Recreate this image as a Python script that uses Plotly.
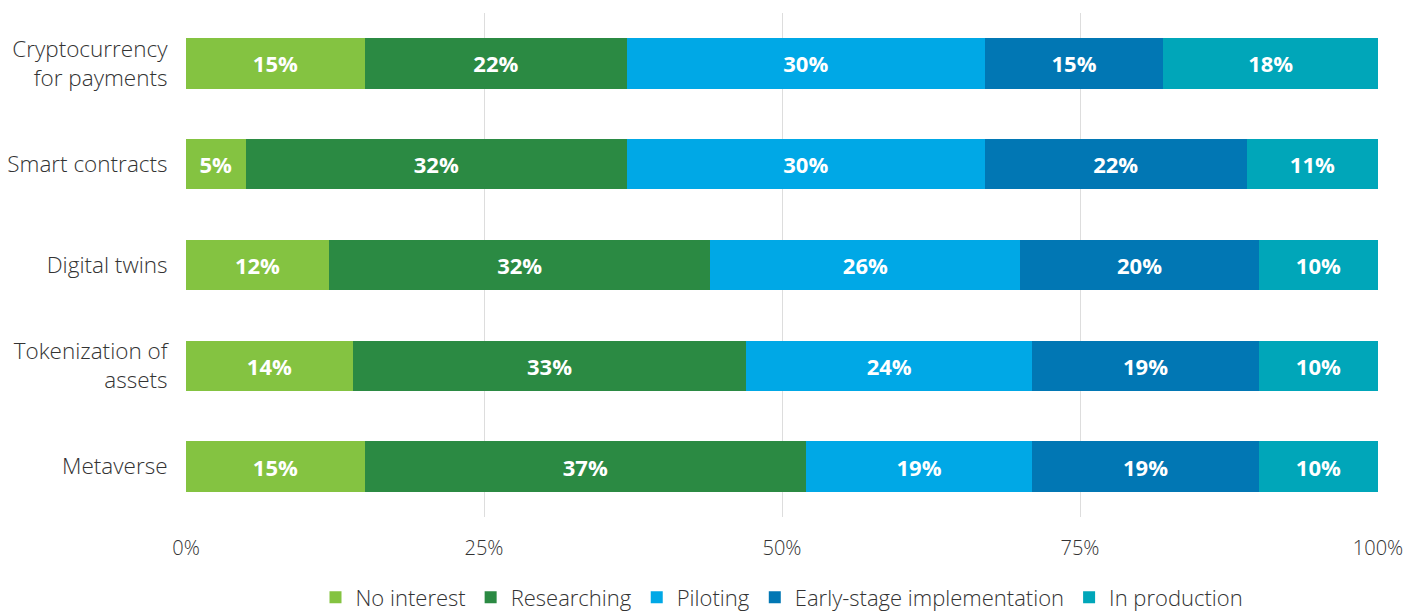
import plotly.graph_objects as go

categories = ["Cryptocurrency<br>for payments", "Smart contracts", "Digital twins",
              "Tokenization of<br>assets", "Metaverse"]
series_names = ["No interest", "Researching", "Piloting", "Early-stage implementation", "In production"]
no_interest = [15, 5, 12, 14, 15]
researching = [22, 32, 32, 33, 37]
piloting = [30, 30, 26, 24, 19]
early_stage = [15, 22, 20, 19, 19]
in_production = [18, 11, 10, 10, 10]
colors = ["#84C341", "#2B8A43", "#00A8E6", "#0177B4", "#00A6B9"]
tick_vals = [0, 25, 50, 75, 100]
tick_text = ["0%", "25%", "50%", "75%", "100%"]

series_values = [no_interest, researching, piloting, early_stage, in_production]

fig = go.Figure()
for name, vals, col in zip(series_names, series_values, colors):
    fig.add_trace(go.Bar(
        y=categories, x=vals, name=name, orientation="h",
        marker=dict(color=col, line=dict(width=0)),
        text=[f"{v}%" for v in vals], textposition="inside",
        insidetextanchor="middle",
        textfont=dict(family="Open Sans", size=22, color="white", weight="bold"),
        hoverinfo="skip",
    ))

fig.update_layout(
    barmode="stack", bargap=0.5,
    width=1417, height=615,
    margin=dict(l=186, r=39, t=13, b=98, autoexpand=False),
    paper_bgcolor="white", plot_bgcolor="white",
    font=dict(family="Open Sans", color="#333333", size=22, weight=300),
    uniformtext=dict(mode="show", minsize=20),
    legend=dict(orientation="h", x=0.5, xanchor="center", y=-0.118, yanchor="top",
                font=dict(size=22, color="#333333", weight=300), traceorder="normal",
                itemwidth=30, tracegroupgap=0),
    xaxis=dict(range=[0, 100], tickvals=tick_vals, ticktext=tick_text, automargin=False,
               showgrid=True, gridcolor="#DDDDDD", gridwidth=1,
               zeroline=False, showline=False,
               ticks="outside", ticklen=13, tickcolor="rgba(0,0,0,0)",
               tickfont=dict(size=20, color="#333333", weight=300)),
    yaxis=dict(autorange="reversed", showgrid=False, zeroline=False, showline=False,
               automargin=False,
               ticks="outside", ticklen=13, tickcolor="rgba(0,0,0,0)",
               tickfont=dict(size=22.5, color="#333333", weight=300)),
)

fig.write_html("out.html")
